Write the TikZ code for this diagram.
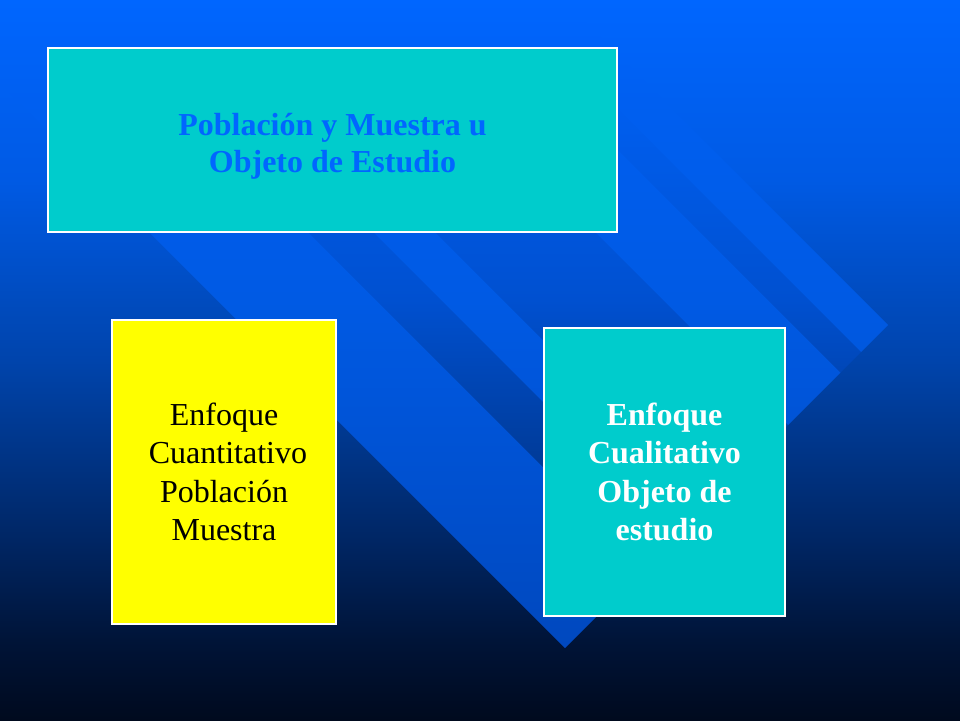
\documentclass[tikz,border=0pt]{standalone}
\usepackage{fontspec}
\setmainfont{Liberation Serif}
% background colours (pixel y from top)
\definecolor{bg0}{RGB}{0,102,255}
\definecolor{bgf}{RGB}{0,95,240}
\definecolor{bg1}{RGB}{0,90,228}
\definecolor{bg2}{RGB}{0,68,172}
\definecolor{bg3}{RGB}{0,38,100}
\definecolor{bg4}{RGB}{0,20,56}
\definecolor{bg5}{RGB}{0,10,30}
% light bands
\definecolor{lb1}{RGB}{0,90,228}
\definecolor{lb2}{RGB}{0,72,190}
\definecolor{lb3}{RGB}{0,68,182}
% dark strips
\definecolor{db1}{RGB}{0,80,208}
\definecolor{db2}{RGB}{0,58,150}
\definecolor{db3}{RGB}{0,40,110}
% boxes
\definecolor{boxcyan}{RGB}{0,204,204}
\definecolor{boxyellow}{RGB}{255,255,0}
\definecolor{titleblue}{RGB}{0,102,255}
\pgfdeclareverticalshading{bgshade}{100bp}{color(0bp)=(bg5); color(25bp)=(bg5); color(30.56bp)=(bg4); color(37.5bp)=(bg3); color(50bp)=(bg2); color(62.5bp)=(bg1); color(75bp)=(bg0); color(100bp)=(bg0)}
\pgfdeclareverticalshading{lightshade}{100bp}{color(0bp)=(lb3); color(25bp)=(lb3); color(29.86bp)=(lb2); color(54.17bp)=(lb1); color(68.06bp)=(bgf); color(75bp)=(bg0); color(100bp)=(bg0)}
\pgfdeclareverticalshading{darkshade}{100bp}{color(0bp)=(db3); color(25bp)=(db3); color(42.36bp)=(db2); color(54.17bp)=(db1); color(68.06bp)=(bgf); color(75bp)=(bg0); color(100bp)=(bg0)}
\tikzset{
  panel/.style={draw=white, line width=1.5pt, inner sep=0pt, align=center},
  bigtext/.style={font=\fontsize{32pt}{38.5pt}\selectfont},
}
\begin{document}
\begin{tikzpicture}[x=1pt, y=-1pt]
\useasboundingbox (0,0) rectangle (960,720);
\clip (0,0) rectangle (960,720);
% background gradient
\shade[shading=bgshade] (0,0) rectangle (960,720);
% diagonal bands: y = x + c, cut by the cap line x + y = 1213
\foreach \ca/\cb/\sh in {83/-76/lightshade, -76/-141/darkshade, -141/-203/lightshade, -203/-363/darkshade, -363/-468/lightshade, -468/-509/darkshade, -509/-563/lightshade}{
  \begin{scope}
    \clip ({0-(\ca)},0) -- ({0-(\cb)},0) -- ({(1213-(\cb))/2},{(1213+(\cb))/2}) -- ({(1213-(\ca))/2},{(1213+(\ca))/2}) -- cycle;
    \shade[shading=\sh] (0,0) rectangle (960,720);
  \end{scope}
}
% boxes
\node[panel, fill=boxcyan, minimum width=569pt, minimum height=184pt,
      text=titleblue, font=\fontsize{32pt}{37pt}\selectfont\bfseries]
      (poblacion) at (332.5,140) {\raisebox{0pt}[34pt][0pt]{Población y Muestra u}\\Objeto de Estudio};
\node[panel, fill=boxyellow, minimum width=224pt, minimum height=304pt,
      text=black, bigtext]
      (cuanti) at (224,472) {Enfoque\\\hspace*{8pt}Cuantitativo\\Población\\Muestra};
\node[panel, fill=boxcyan, minimum width=241pt, minimum height=288pt,
      text=white, font=\fontsize{32pt}{38.5pt}\selectfont\bfseries]
      (cuali) at (664.5,472) {Enfoque\\Cualitativo\\Objeto de\\estudio};
\end{tikzpicture}
\end{document}
